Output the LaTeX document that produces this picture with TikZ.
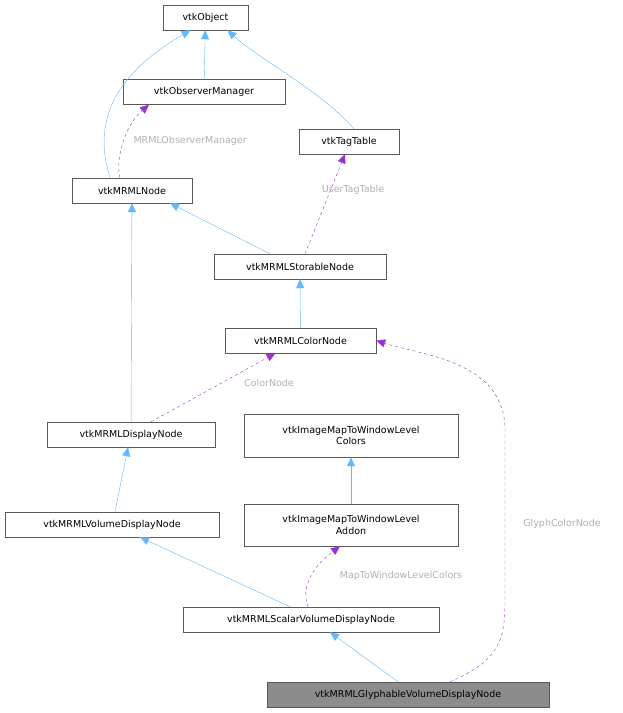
\documentclass[tikz,border=0pt]{standalone}
\usepackage{fontspec}
\setmainfont{DejaVu Sans}
\usetikzlibrary{arrows.meta}
\definecolor{inh}{HTML}{63B8FF}
\definecolor{use}{HTML}{9A32CD}
\definecolor{lbl}{HTML}{B0B0B0}
\begin{document}
\begin{tikzpicture}[x=1pt,y=-1pt,
  cls/.style={draw=black!65,fill=white,inner sep=0pt,minimum height=25pt,font=\fontsize{9.5}{11.5}\selectfont,align=center},
  inhl/.style={draw=inh,-{Triangle[length=9pt,width=8pt,fill=inh]}},
  usel/.style={draw=use,dashed,-{Triangle[length=9pt,width=8pt,fill=use]}},
  lab/.style={text=lbl,font=\fontsize{9.5}{11.5}\selectfont}]
\useasboundingbox (0,0) rectangle (622,713);
\node[cls,minimum width=85pt] (obj) at (205.5,17.5) {vtkObject};
\node[cls,minimum width=162pt] (obs) at (204,92) {vtkObserverManager};
\node[cls,minimum width=100pt] (tag) at (349,141.5) {vtkTagTable};
\node[cls,minimum width=120pt] (node) at (132,190.5) {vtkMRMLNode};
\node[cls,minimum width=172pt] (stor) at (300,266.5) {vtkMRMLStorableNode};
\node[cls,minimum width=151pt] (color) at (300.5,340.5) {vtkMRMLColorNode};
\node[cls,minimum width=168pt] (disp) at (131,434.5) {vtkMRMLDisplayNode};
\node[cls,minimum width=214pt,minimum height=43pt] (wlc) at (351,435.5) {vtkImageMapToWindowLevel\\Colors};
\node[cls,minimum width=214pt] (vol) at (112,524.5) {vtkMRMLVolumeDisplayNode};
\node[cls,minimum width=214pt,minimum height=42pt] (wla) at (351,525) {vtkImageMapToWindowLevel\\Addon};
\node[cls,minimum width=256pt] (scal) at (311,619.5) {vtkMRMLScalarVolumeDisplayNode};
\node[cls,minimum width=282pt,fill=black!45] (gly) at (408,694.5) {vtkMRMLGlyphableVolumeDisplayNode};

\draw[inhl] (obs) -- (obj);
\draw[inhl] ([xshift=-22pt]node.north) .. controls (95,130) and (105,80) .. ([xshift=-15pt]obj.south);
\draw[inhl] ([xshift=5pt]tag.north) .. controls (320,90) and (260,60) .. ([xshift=22pt]obj.south);
\draw[usel] ([xshift=-12pt]node.north) .. controls (115,160) and (125,125) .. ([xshift=-55pt]obs.south);
\node[lab,anchor=west] (l1) at (130,141) {MRMLObserverManager};
\draw[inhl] ([xshift=-30pt]stor.north) -- ([xshift=38pt]node.south);
\draw[usel] ([xshift=5pt]stor.north) -- ([xshift=-4pt]tag.south);
\node[lab] (l2) at (353,190) {UserTagTable};
\draw[inhl] (color) -- (stor);
\draw[inhl] (disp) -- (node);
\draw[usel] ([xshift=20pt]disp.north) -- ([xshift=-25pt]color.south);
\node[lab] (l3) at (269,383) {ColorNode};
\draw[inhl] (wla) -- (wlc);
\draw[inhl] ([xshift=3pt]vol.north) -- ([xshift=-3pt]disp.south);
\draw[inhl] ([xshift=-21pt]scal.north) -- ([xshift=28pt]vol.south);
\draw[usel] ([xshift=-3pt]scal.north) .. controls (300,585) and (315,565) .. ([xshift=-11pt]wla.south);
\node[lab] (l4) at (401,576) {MapToWindowLevelColors};
\draw[inhl] ([xshift=-10pt]gly.north) -- ([xshift=19pt]scal.south);
\draw[usel] ([xshift=42pt]gly.north) .. controls (500,660) and (505,640) .. (505,600) -- (505,430) .. controls (505,360) and (420,355) .. (color.east);
\node[lab] (l5) at (562,524) {GlyphColorNode};
\end{tikzpicture}
\end{document}
